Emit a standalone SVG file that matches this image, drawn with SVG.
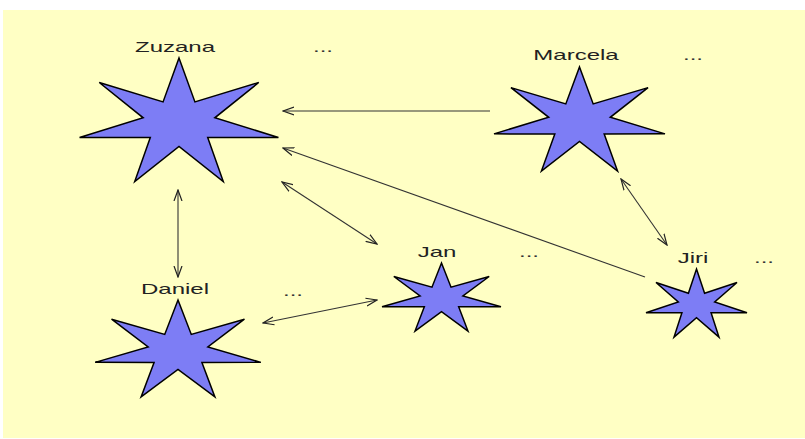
<svg xmlns="http://www.w3.org/2000/svg" width="805" height="439" viewBox="0 0 805 439">
<style>
.lbl{font-family:"Liberation Sans",Arial,sans-serif;font-size:15px;fill:#222;text-anchor:middle}
.dots{font-family:"Liberation Sans",Arial,sans-serif;font-size:15px;fill:#333}
.star{fill:#7d7df5;stroke:#000;stroke-width:1.5;stroke-linejoin:miter}
.conn line{stroke:#333;stroke-width:1.1;fill:none}
</style>
<defs>
<path id="star" vector-effect="non-scaling-stroke" d="M0,-1 L0.1562,-0.3244 L0.7818,-0.6235 L0.3510,-0.0801 L0.9749,0.2225 L0.2814,0.2245 L0.4339,0.9010 L0,0.36 L-0.4339,0.9010 L-0.2814,0.2245 L-0.9749,0.2225 L-0.3510,-0.0801 L-0.7818,-0.6235 L-0.1562,-0.3244 Z"/>
<marker id="arr" viewBox="0 0 12 10" refX="11" refY="5" markerWidth="12" markerHeight="10" markerUnits="userSpaceOnUse" orient="auto-start-reverse">
<path d="M0,1 L11,5 L0,9" fill="none" stroke="#222" stroke-width="1.2"/>
</marker>
</defs>
<rect x="3" y="10" width="802" height="428" fill="#ffffc4"/>
<g id="connectors" class="conn">
<line x1="490" y1="111" x2="283" y2="111" marker-end="url(#arr)"/>
<line x1="178" y1="190" x2="178" y2="277" marker-start="url(#arr)" marker-end="url(#arr)"/>
<line x1="282" y1="182" x2="377" y2="244" marker-start="url(#arr)" marker-end="url(#arr)"/>
<line x1="263" y1="323" x2="377" y2="300" marker-start="url(#arr)" marker-end="url(#arr)"/>
<line x1="621" y1="179" x2="667" y2="245" marker-start="url(#arr)" marker-end="url(#arr)"/>
<line x1="645" y1="277" x2="283" y2="148" marker-end="url(#arr)"/>
</g>
<g id="zuzana">
<use href="#star" class="star" transform="translate(179,123) scale(102,65)"/>
<text class="lbl" transform="translate(175,52) scale(1.6,1)">Zuzana</text>
<text class="dots" transform="translate(313,52) scale(1.6,1)">...</text>
</g>
<g id="marcela">
<use href="#star" class="star" transform="translate(579.5,121.7) scale(87.7,54.7)"/>
<text class="lbl" transform="translate(576,60) scale(1.6,1)">Marcela</text>
<text class="dots" transform="translate(683,60) scale(1.6,1)">...</text>
</g>
<g id="daniel">
<use href="#star" class="star" transform="translate(178,351) scale(85,51)"/>
<text class="lbl" transform="translate(175,294) scale(1.6,1)">Daniel</text>
<text class="dots" transform="translate(283,296) scale(1.6,1)">...</text>
</g>
<g id="jan">
<use href="#star" class="star" transform="translate(441.5,298.8) scale(61,35.8)"/>
<text class="lbl" transform="translate(437,257) scale(1.6,1)">Jan</text>
<text class="dots" transform="translate(519,257) scale(1.6,1)">...</text>
</g>
<g id="jiri">
<use href="#star" class="star" transform="translate(696.5,304.8) scale(51.8,35.8)"/>
<text class="lbl" transform="translate(693,263) scale(1.6,1)">Jiri</text>
<text class="dots" transform="translate(754,263) scale(1.6,1)">...</text>
</g>
</svg>
